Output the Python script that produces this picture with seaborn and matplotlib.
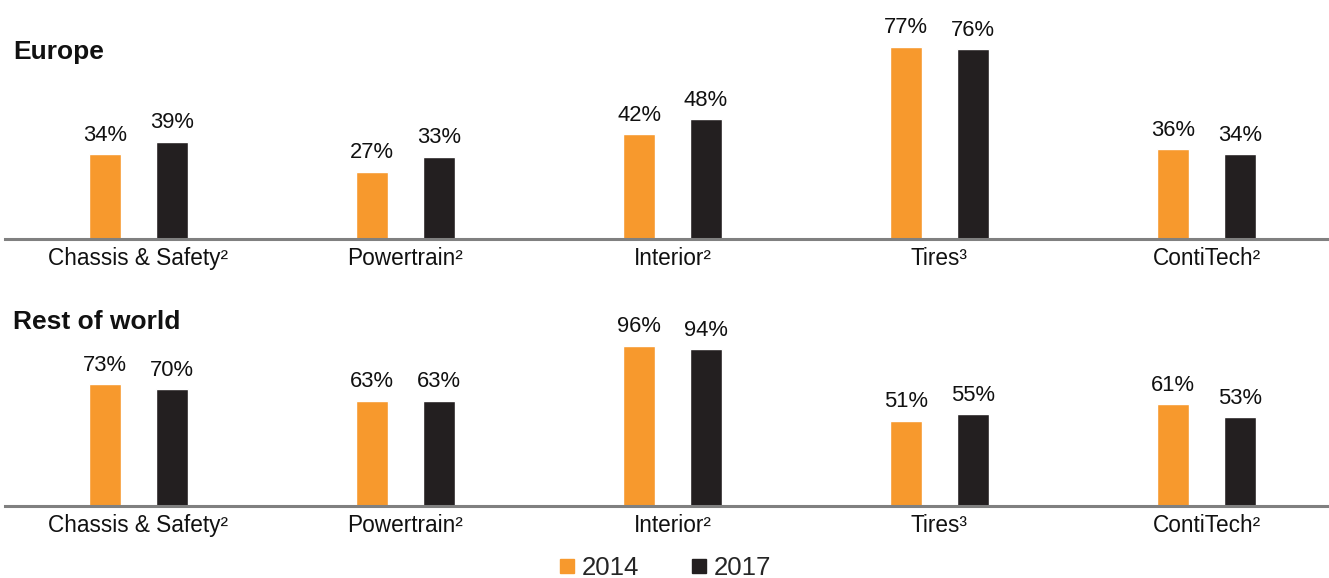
import matplotlib
matplotlib.use("Agg")
import matplotlib.pyplot as plt
import seaborn as sns
import pandas as pd

sns.set_theme(style="white")
plt.rcParams["font.family"] = ["Liberation Sans", "DejaVu Sans"]

categories = ["Chassis & Safety²", "Powertrain²", "Interior²", "Tires³", "ContiTech²"]
years = ["2014", "2017"]
europe_2014 = [34, 27, 42, 77, 36]
europe_2017 = [39, 33, 48, 76, 34]
row_2014 = [73, 63, 96, 51, 61]
row_2017 = [70, 63, 94, 55, 53]

colors = {"2014": "#F7992D", "2017": "#231F20"}


def frame(v14, v17):
    return pd.DataFrame({
        "segment": categories * 2,
        "year": [years[0]] * len(categories) + [years[1]] * len(categories),
        "share": v14 + v17,
    })


W, H = 1329, 578
fig = plt.figure(figsize=(W / 100, H / 100), dpi=100)

panels = [
    ("Europe", frame(europe_2014, europe_2017), 239, 90, 225, 52),
    ("Rest of world", frame(row_2014, row_2017), 506, 100, 167, 322),
]

for title, df, base_px, ymax, h_px, title_px in panels:
    ax = fig.add_axes([5 / W, 1 - base_px / H, 1335 / W, h_px / H])
    sns.barplot(data=df, x="segment", y="share", hue="year", palette=colors,
                width=0.5, gap=0.53, ax=ax, legend=False, saturation=1)
    ax.set_xlim(-0.5, 4.5)
    ax.set_ylim(0, ymax)
    for cont in ax.containers:
        ax.bar_label(cont, labels=[f"{v:.0f}%" for v in cont.datavalues],
                     padding=6, fontsize=15.8, color="#111111", clip_on=False)
    for s in ["top", "right", "left"]:
        ax.spines[s].set_visible(False)
    ax.spines["bottom"].set_color("#808080")
    ax.spines["bottom"].set_linewidth(2.2)
    ax.set_yticks([])
    ax.set_xlabel("")
    ax.set_ylabel("")
    ax.tick_params(axis="x", length=0, pad=6, labelsize=16.3, labelcolor="#111111")
    fig.text(13 / W, 1 - title_px / H, title, fontsize=19, fontweight="bold",
             va="center", ha="left", color="#111111")

# legend with small square markers
handles = [plt.Line2D([], [], marker="s", linestyle="", markersize=10,
                      markerfacecolor=colors[y], markeredgecolor=colors[y]) for y in years]
fig.legend(handles, years, loc="center", bbox_to_anchor=(0.5, 1 - 568 / H), ncol=2,
           frameon=False, fontsize=18.5, handletextpad=0.2, columnspacing=2.0,
           handlelength=0.7)

fig.savefig("out.png", dpi=100)
